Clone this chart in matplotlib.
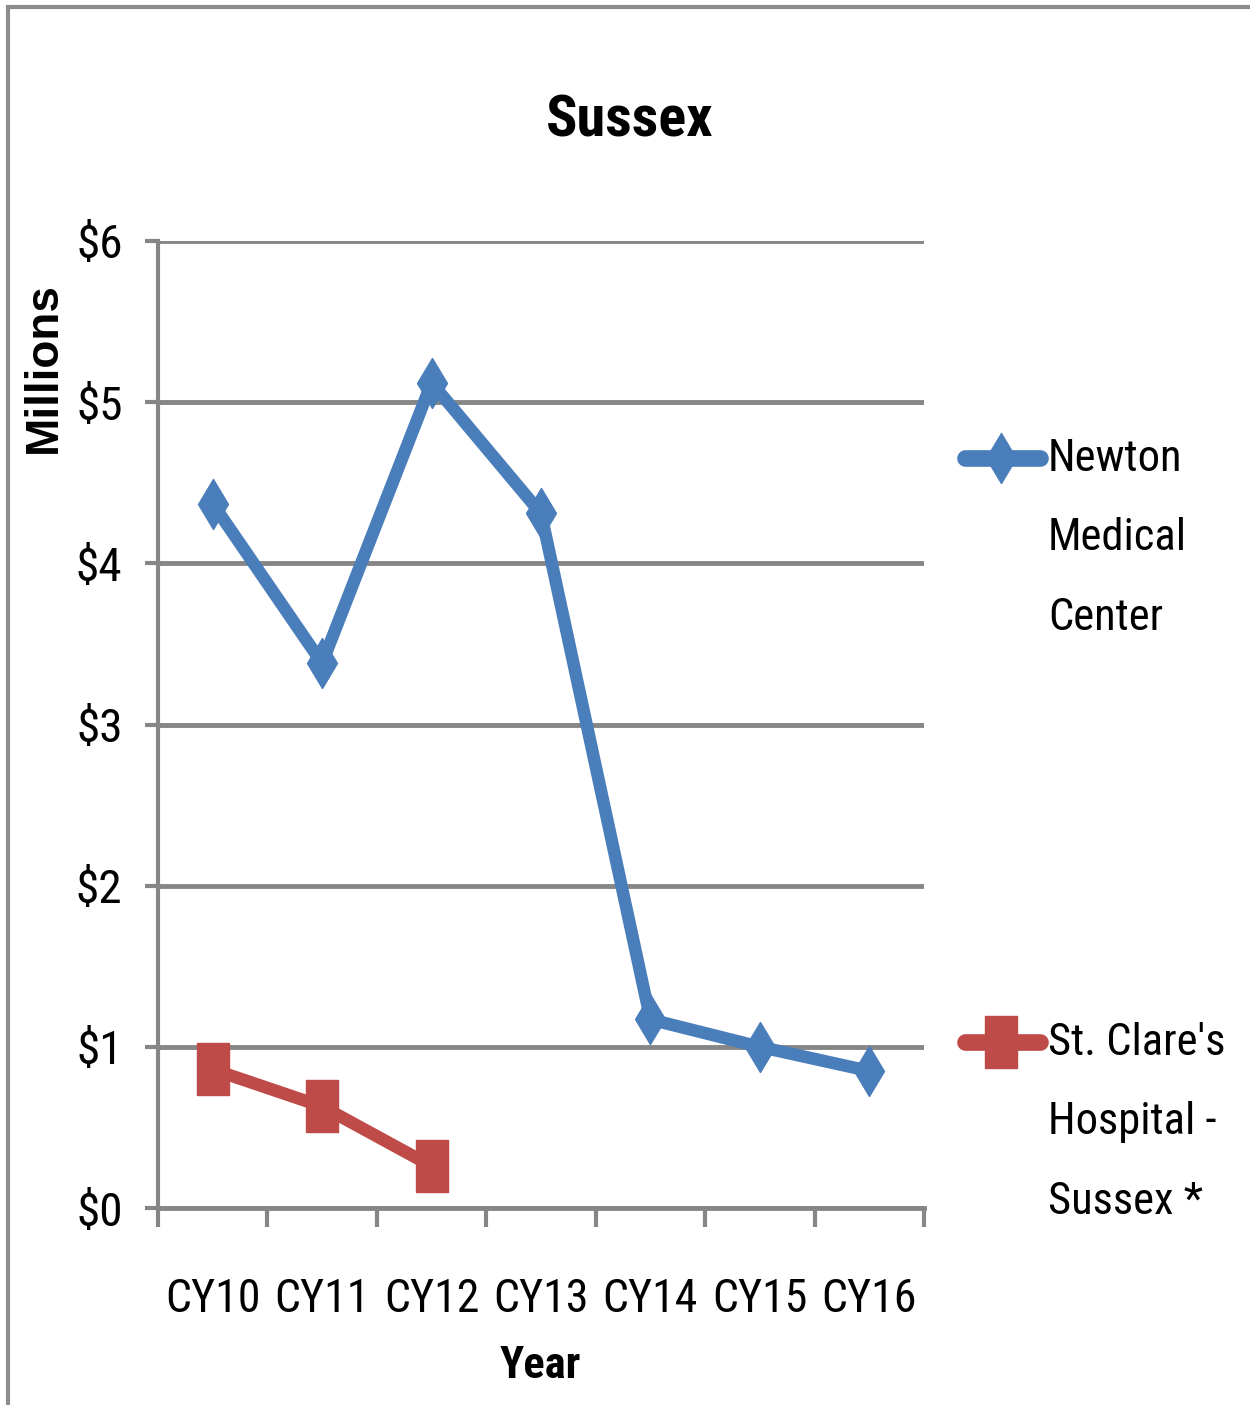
import matplotlib
matplotlib.use("Agg")
import matplotlib.pyplot as plt
from matplotlib.lines import Line2D
from matplotlib.patches import Rectangle
from matplotlib import font_manager

names = {f.name for f in font_manager.fontManager.ttflist}
narrow = [n for n in ["Roboto Condensed", "Liberation Sans Narrow", "Open Sans Condensed", "Liberation Sans"] if n in names]
FONT = narrow + ["DejaVu Sans"]

categories = ["CY10", "CY11", "CY12", "CY13", "CY14", "CY15", "CY16"]
newton = [4.37, 3.38, 5.12, 4.31, 1.17, 1.00, 0.85]
stclare = [0.86, 0.63, 0.26]
yticks = [0, 1, 2, 3, 4, 5, 6]
ytick_labels = ["$0", "$1", "$2", "$3", "$4", "$5", "$6"]
series_names = ["Newton\nMedical\nCenter", "St. Clare's\nHospital -\nSussex *"]

BLUE = "#4A7EBB"
RED = "#BE4B48"
GRID = "#868686"

# vertically elongated markers (the reference is stretched vertically)
DIAMOND = [(0, -1.67), (1, 0), (0, 1.67), (-1, 0), (0, -1.67)]
SQUARE = [(-1, -1.58), (1, -1.58), (1, 1.58), (-1, 1.58), (-1, -1.58)]

W, H = 1250, 1405
fig = plt.figure(figsize=(W / 100, H / 100), dpi=100)
fig.patches.append(Rectangle((8 / W, -0.1), 1.2, 1 - 7 / H + 0.1, transform=fig.transFigure,
                             fill=False, edgecolor="#8C8C8C", linewidth=3))

ax = fig.add_axes([158 / W, 1 - 1208 / H, (924 - 158) / W, (1208 - 241) / H])
x = list(range(len(categories)))
ax.plot(x, newton, color=BLUE, lw=9, marker=DIAMOND, markersize=36, solid_capstyle="round",
        solid_joinstyle="round", zorder=3)
ax.plot(x[:len(stclare)], stclare, color=RED, lw=9, marker=SQUARE, markersize=37,
        solid_capstyle="round", solid_joinstyle="round", zorder=3)

ax.set_xlim(-0.5, len(categories) - 0.5)
ax.set_ylim(0, 6)
ax.set_yticks(yticks)
ax.set_yticklabels(ytick_labels, fontfamily=FONT, fontsize=34)
ax.yaxis.grid(True, color=GRID, lw=3.5)
ax.set_axisbelow(True)
ax.set_xticks([i - 0.5 for i in range(len(categories) + 1)])
ax.set_xticklabels([])
ax.set_xticks(x, minor=True)
ax.set_xticklabels(categories, minor=True, fontfamily=FONT, fontsize=33)
ax.tick_params(axis="x", which="minor", length=0, pad=50)
ax.tick_params(axis="x", which="major", length=14, width=3, color=GRID)
ax.tick_params(axis="y", length=9.5, width=3, color=GRID, pad=16)
for s in ["top", "right"]:
    ax.spines[s].set_visible(False)
for s in ["left", "bottom"]:
    ax.spines[s].set_color(GRID)
    ax.spines[s].set_linewidth(3)
ax.spines["bottom"].set_linewidth(3.5)

fig.text(630 / W, 1 - 121 / H, "Sussex", ha="center", va="center", fontfamily=FONT,
         fontsize=42, fontweight="bold")
fig.text(540 / W, 1 - 1366 / H, "Year", ha="center", va="center", fontfamily=FONT,
         fontsize=32, fontweight="bold")
fig.text(44 / W, 1 - 368 / H, "Millions", ha="center", va="center", rotation=90,
         fontfamily=["Liberation Sans", "DejaVu Sans"], fontsize=33, fontweight="bold")

# legend
for (name, color, marker, ms, ly) in [(series_names[0], BLUE, DIAMOND, 36, 458),
                                      (series_names[1], RED, SQUARE, 37, 1042)]:
    fig.add_artist(Line2D([965 / W, 1040 / W], [1 - ly / H, 1 - ly / H], transform=fig.transFigure,
                          color=color, lw=12, solid_capstyle="round"))
    fig.add_artist(Line2D([1001 / W], [1 - ly / H], transform=fig.transFigure, color=color,
                          marker=marker, markersize=ms, lw=0))
    fig.text(1048 / W, 1 - (ly - 20) / H, name, ha="left", va="top", fontfamily=FONT,
             fontsize=32, linespacing=2.13)

fig.savefig("out.png", dpi=100)
